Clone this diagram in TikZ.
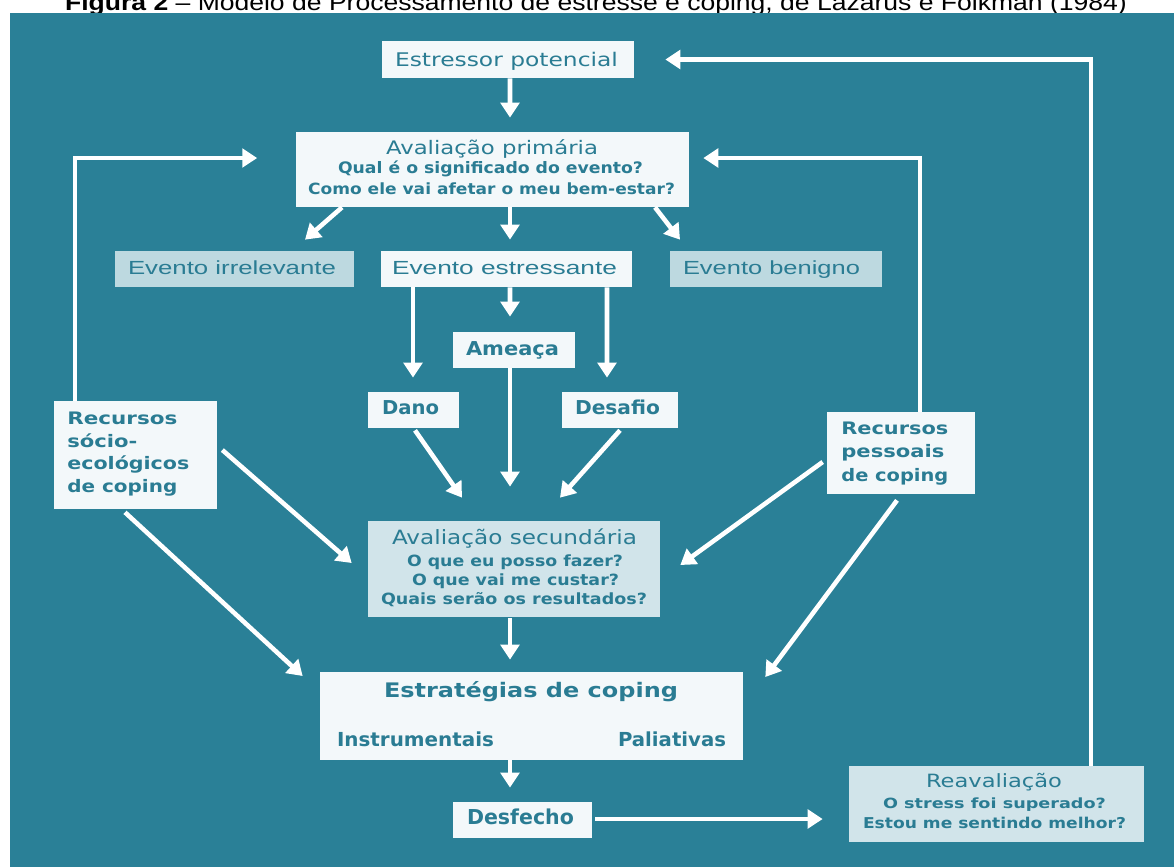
\documentclass[tikz,border=0pt]{standalone}
\usepackage{fontspec}
\usepackage{graphicx}
\setmainfont{DejaVu Sans}
\newfontfamily\lib{Liberation Sans}
\usetikzlibrary{arrows.meta,calc}
\newdimen\pxu \pxu=0.5690551pt
\newcommand\fw[2]{\resizebox{#1\pxu}{\height}{#2}}
\newcommand\fs[1]{\fontsize{#1}{#1}\selectfont}
\definecolor{bg}{HTML}{2A8097}
\definecolor{boxw}{HTML}{F3F8FA}
\definecolor{boxs}{HTML}{BDD9E0}
\definecolor{boxt}{HTML}{D1E4EA}
\definecolor{tc}{HTML}{2A7C93}
\begin{document}
\begin{tikzpicture}[x=0.02cm,y=-0.02cm,
  lbox/.style={fill=boxw, draw=none, inner sep=0},
  sbox/.style={fill=boxs, draw=none, inner sep=0},
  tbox/.style={fill=boxt, draw=none, inner sep=0},
  sz/.style 2 args={minimum width=#1*\pxu, minimum height=#2*\pxu},
  txt/.style={text=tc, inner sep=0, anchor=base},
  ltxt/.style={text=tc, inner sep=0, anchor=base west},
  arr/.style={draw=white, line width=2.6pt, line join=miter, -{Triangle[length=8.5pt,width=10.5pt]}}]
\useasboundingbox (0,0) rectangle (1174,867);
\fill[white] (0,0) rectangle (1174,867);
\node[inner sep=0, anchor=base] (title) at (596,10.5) {\fw{1062}{\lib\fs{13}\textbf{Figura 2} – Modelo de Processamento de estresse e coping, de Lazarus e Folkman (1984)}};
\fill[bg] (10,13) rectangle (1174,867);

% boxes
\node[lbox, sz={252}{37}] (est) at (508,59.5) {};
\node[lbox, sz={393}{75}] (prim) at (492.5,169.5) {};
\node[sbox, sz={239}{36}] (irr) at (234.5,269) {};
\node[lbox, sz={251}{36}] (estr) at (506.5,269) {};
\node[sbox, sz={212}{36}] (ben) at (776,269) {};
\node[lbox, sz={122}{36}] (ame) at (514,350) {};
\node[lbox, sz={91}{36}] (dano) at (413.5,410) {};
\node[lbox, sz={116}{36}] (desa) at (620,410) {};
\node[lbox, sz={163}{108}] (soc) at (135.5,455) {};
\node[lbox, sz={148}{82}] (pes) at (901,453) {};
\node[tbox, sz={292}{96}] (sec) at (514,569) {};
\node[lbox, sz={423}{88}] (estrat) at (531.5,716) {};
\node[lbox, sz={139}{36}] (desf) at (522.5,820) {};
\node[tbox, sz={295}{76}] (reav) at (996.5,804) {};

% texts
\node[txt] (est-t) at (506.5,66) {\fw{223}{\fs{10.7}Estressor potencial}};
\node[txt] (prim-t1) at (492,154) {\fw{212}{\fs{10.6}Avaliação primária}};
\node[txt] (prim-t2) at (490.5,173) {\fw{305}{\fs{9}\bfseries Qual é o significado do evento?}};
\node[txt] (prim-t3) at (491.5,194) {\fw{367}{\fs{8.8}\bfseries Como ele vai afetar o meu bem-estar?}};
\node[txt] (irr-t) at (232,274) {\fw{208}{\lib\fs{10.8}Evento irrelevante}};
\node[txt] (estr-t) at (504.5,274) {\fw{225}{\lib\fs{10.8}Evento estressante}};
\node[txt] (ben-t) at (771.5,274) {\fw{177}{\lib\fs{10.8}Evento benigno}};
\node[txt] (ame-t) at (512.5,355) {\fw{93}{\fs{10.9}\bfseries Ameaça}};
\node[txt] (dano-t) at (410.5,414) {\fw{57}{\fs{10.9}\bfseries Dano}};
\node[txt] (desa-t) at (617.5,414) {\fw{85}{\fs{10.9}\bfseries Desafio}};
\node[ltxt] (soc-t1) at (67,424) {\fw{110}{\fs{9.8}\bfseries Recursos}};
\node[ltxt] (soc-t2) at (67,447) {\fw{70}{\fs{9.8}\bfseries sócio-}};
\node[ltxt] (soc-t3) at (67,469.5) {\fw{122}{\fs{9.8}\bfseries ecológicos}};
\node[ltxt] (soc-t4) at (67,492) {\fw{110}{\fs{9.8}\bfseries de coping}};
\node[ltxt] (pes-t1) at (841,434) {\fw{107}{\fs{9.8}\bfseries Recursos}};
\node[ltxt] (pes-t2) at (841,457) {\fw{103}{\fs{9.8}\bfseries pessoais}};
\node[ltxt] (pes-t3) at (841,481) {\fw{107}{\fs{9.8}\bfseries de coping}};
\node[txt] (sec-t1) at (514.5,544) {\fw{245}{\fs{11.2}Avaliação secundária}};
\node[txt] (sec-t2) at (515,566) {\fw{216}{\fs{8.8}\bfseries O que eu posso fazer?}};
\node[txt] (sec-t3) at (515.5,585) {\fw{207}{\fs{8.8}\bfseries O que vai me custar?}};
\node[txt] (sec-t4) at (514,604) {\fw{266}{\fs{8.8}\bfseries Quais serão os resultados?}};
\node[txt] (estrat-t1) at (531,697) {\fw{294}{\fs{11.4}\bfseries Estratégias de coping}};
\node[txt] (estrat-t2) at (415.5,746) {\fw{157}{\fs{11}\bfseries Instrumentais}};
\node[txt] (estrat-t3) at (672,746) {\fw{108}{\fs{11}\bfseries Paliativas}};
\node[txt] (desf-t) at (520.5,824) {\fw{107}{\fs{11.7}\bfseries Desfecho}};
\node[txt] (reav-t1) at (994,787) {\fw{136}{\fs{10.4}Reavaliação}};
\node[txt] (reav-t2) at (994.5,808) {\fw{223}{\fs{8}\bfseries O stress foi superado?}};
\node[txt] (reav-t3) at (994.5,828) {\fw{263}{\fs{8.5}\bfseries Estou me sentindo melhor?}};

% connectors
\draw[arr] ($(est.south)+(2,0)$) -- ($(prim.north)+(17.5,-14)$);
\draw[arr] ($(prim.south)+(-150.5,0)$) -- ($(irr.north)+(70.5,-11)$);
\draw[arr] ($(prim.south)+(17.5,0)$) -- ($(estr.north)+(3.5,-11)$);
\draw[arr] ($(prim.south)+(162.5,0)$) -- ($(ben.north)+(-96,-11)$);
\draw[arr] ($(estr.south)+(-93.5,0)$) -- ($(dano.north)+(-0.5,-14)$);
\draw[arr] ($(estr.south)+(3.5,0)$) -- ($(ame.north)+(-4,-15)$);
\draw[arr] ($(estr.south)+(100.5,0)$) -- ($(desa.north)+(-13,-14)$);
\draw[arr] ($(dano.south)+(1.5,2)$) -- ($(sec.north)+(-52,-23)$);
\draw[arr] ($(ame.south)+(-4,0)$) -- ($(sec.north)+(-4,-34)$);
\draw[arr] ($(desa.south)+(0,2)$) -- ($(sec.north)+(46,-23)$);
\draw[arr] ($(soc.east)+(5,-5)$) -- ($(sec.west)+(-16,-6)$);
\draw[arr] ($(soc.south)+(-10.5,3)$) -- ($(estrat.west)+(-17,-40)$);
\draw[arr] ($(pes.west)+(-4,9)$) -- ($(sec.east)+(20,-4)$);
\draw[arr] ($(pes.south)+(-4,6)$) -- ($(estrat.east)+(22,-39)$);
\draw[arr] ($(sec.south)+(-4,1)$) -- ($(estrat.north)+(-21.5,-12)$);
\draw[arr] ($(estrat.south)+(-21.5,0)$) -- ($(desf.north)+(-12.5,-14)$);
\draw[arr] ($(desf.east)+(3,-1)$) -- ($(reav.west)+(-26,15)$);
\draw[arr] ($(reav.north)+(94.5,0)$) |- ($(est.east)+(31,0)$);
\draw[arr] ($(soc.north)+(-60.5,0)$) |- ($(prim.west)+(-38.5,-11.5)$);
\draw[arr] ($(pes.north)+(19,0)$) |- ($(prim.east)+(14,-11.5)$);
\end{tikzpicture}
\end{document}
